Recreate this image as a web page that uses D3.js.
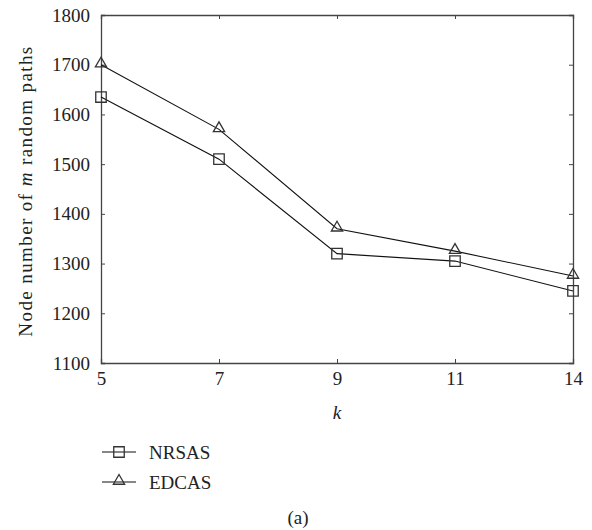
<!DOCTYPE html>
<html>
<head>
<meta charset="utf-8">
<script src="https://cdn.jsdelivr.net/npm/d3@7"></script>
<style>
  body { margin: 0; background: #fff; }
  text { font-family: "Liberation Serif", "Times New Roman", serif; fill: #222; }
</style>
</head>
<body>
<script>
// chart data
var kValues = ["5", "7", "9", "11", "14"];
var nrsas = [1635, 1510, 1320, 1305, 1245];
var edcas = [1700, 1570, 1370, 1325, 1275];
var yTicks = [1100, 1200, 1300, 1400, 1500, 1600, 1700, 1800];

var width = 592, height = 530;
var margin = {top: 15, right: 19, bottom: 167, left: 101};
var w = width - margin.left - margin.right,
	h = height - margin.top - margin.bottom;
var fontSize = 19;

var svg = d3.select("body").append("svg")
	.attr("width", width)
	.attr("height", height);

var g = svg.append("g")
	.attr("transform", "translate(" + margin.left + "," + margin.top + ")");

var xScale = d3.scalePoint()
	.domain(kValues)
	.range([0, w]);
var yScale = d3.scaleLinear()
	.domain([1100, 1800])
	.range([h, 0]);

var axisColor = "#444";
var tickLen = 4;

// axes with inward ticks on all four sides
var xBottom = g.append("g").attr("transform", "translate(0," + h + ")")
	.call(d3.axisBottom(xScale).tickSize(-tickLen).tickPadding(9));
var xTop = g.append("g")
	.call(d3.axisTop(xScale).tickSize(-tickLen).tickFormat(""));
var yLeft = g.append("g")
	.call(d3.axisLeft(yScale).tickValues(yTicks).tickFormat(d3.format("d")).tickSize(-tickLen).tickPadding(11));
var yRight = g.append("g").attr("transform", "translate(" + w + ",0)")
	.call(d3.axisRight(yScale).tickValues(yTicks).tickSize(-tickLen).tickFormat(""));

[xBottom, xTop, yLeft, yRight].forEach(function(a) {
	a.attr("font-size", fontSize).attr("font-family", null);
	a.select(".domain").attr("stroke", axisColor).attr("stroke-width", 1.3);
	a.selectAll(".tick line").attr("stroke", axisColor).attr("stroke-width", 1);
	a.selectAll(".tick text").attr("fill", "#222");
});

// series lines
var line = d3.line()
	.x(function(d, i) { return xScale(kValues[i]); })
	.y(function(d) { return yScale(d); });

g.append("path").datum(nrsas)
	.attr("d", line)
	.attr("fill", "none")
	.attr("stroke", "#111")
	.attr("stroke-width", 1.1);
g.append("path").datum(edcas)
	.attr("d", line)
	.attr("fill", "none")
	.attr("stroke", "#111")
	.attr("stroke-width", 1.1);

var square = d3.symbol().type(d3.symbolSquare).size(110);
var triangle = d3.symbol().type(d3.symbolTriangle).size(55);

g.selectAll(".sq").data(nrsas).enter().append("path")
	.attr("class", "sq")
	.attr("d", square)
	.attr("transform", function(d, i) { return "translate(" + xScale(kValues[i]) + "," + yScale(d) + ")"; })
	.attr("fill", "none")
	.attr("stroke", "#333")
	.attr("stroke-width", 1.3);

g.selectAll(".tri").data(edcas).enter().append("path")
	.attr("class", "tri")
	.attr("d", triangle)
	.attr("transform", function(d, i) { return "translate(" + xScale(kValues[i]) + "," + (yScale(d) - 1) + ")"; })
	.attr("fill", "none")
	.attr("stroke", "#333")
	.attr("stroke-width", 1.3);

// axis labels
g.append("text")
	.attr("x", w / 2)
	.attr("y", h + 56)
	.attr("text-anchor", "middle")
	.attr("font-size", fontSize)
	.attr("font-style", "italic")
	.text("k");

var yl = svg.append("text")
	.attr("transform", "translate(32," + (margin.top + h / 2 + 2) + ") rotate(-90)")
	.attr("text-anchor", "middle")
	.attr("font-size", fontSize)
	.attr("letter-spacing", 1.4);
yl.append("tspan").text("Node number of ");
yl.append("tspan").attr("font-style", "italic").text("m");
yl.append("tspan").text(" random paths");

// legend
var legendItems = [
	{name: "NRSAS", sym: square, dy: 0},
	{name: "EDCAS", sym: triangle, dy: -1}
];
var legend = svg.append("g").attr("transform", "translate(102,452)");
legendItems.forEach(function(item, i) {
	var row = legend.append("g").attr("transform", "translate(0," + (i * 30) + ")");
	row.append("line")
		.attr("x1", 0).attr("x2", 34)
		.attr("y1", 0).attr("y2", 0)
		.attr("stroke", "#111").attr("stroke-width", 1.1);
	row.append("path")
		.attr("d", item.sym)
		.attr("transform", "translate(17," + item.dy + ")")
		.attr("fill", "none")
		.attr("stroke", "#333")
		.attr("stroke-width", 1.3);
	row.append("text")
		.attr("x", 47)
		.attr("y", 7)
		.attr("font-size", fontSize)
		.text(item.name);
});

svg.append("text")
	.attr("x", 298)
	.attr("y", 524)
	.attr("text-anchor", "middle")
	.attr("font-size", fontSize)
	.text("(a)");
</script>
</body>
</html>
